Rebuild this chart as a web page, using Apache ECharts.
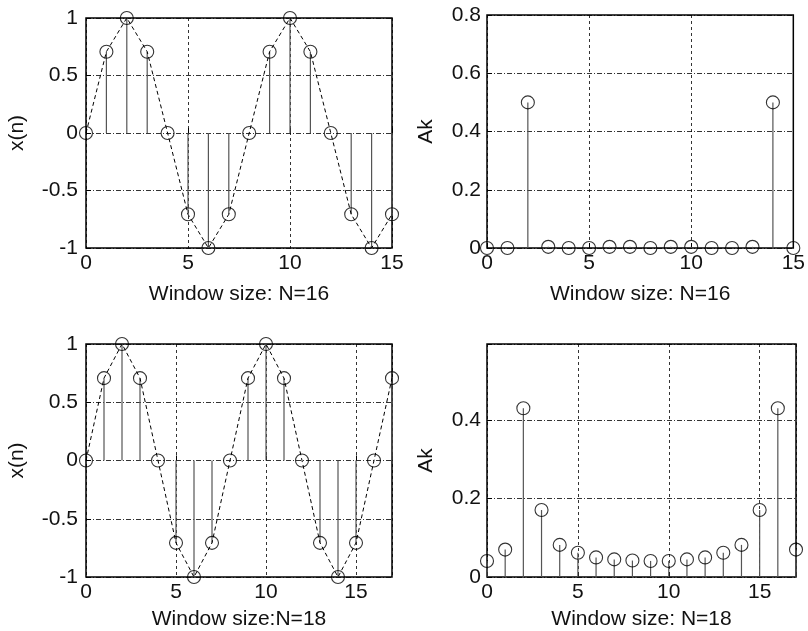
<!DOCTYPE html>
<html>
<head>
<meta charset="utf-8">
<script src="https://cdn.jsdelivr.net/npm/echarts@6/dist/echarts.min.js"></script>
<style>
html,body{margin:0;padding:0;background:#fff;}
#c{width:808px;height:631px;}
</style>
</head>
<body>
<div id="c"></div>
<script>
// ---- data ----
const n16 = [0,1,2,3,4,5,6,7,8,9,10,11,12,13,14,15];
const x16 = [0,0.707,1,0.707,0,-0.707,-1,-0.707,0,0.707,1,0.707,0,-0.707,-1,-0.707];
const k16 = [0,1,2,3,4,5,6,7,8,9,10,11,12,13,14,15];
const A16 = [0,0,0.5,0.004,0,0,0.004,0.004,0,0.004,0.004,0,0,0.004,0.5,0];

const n18 = [0,1,2,3,4,5,6,7,8,9,10,11,12,13,14,15,16,17];
const x18 = [0,0.707,1,0.707,0,-0.707,-1,-0.707,0,0.707,1,0.707,0,-0.707,-1,-0.707,0,0.707];
const k18 = [0,1,2,3,4,5,6,7,8,9,10,11,12,13,14,15,16,17];
const A18 = [0.041,0.070,0.431,0.171,0.082,0.062,0.050,0.045,0.042,0.041,0.041,0.045,0.050,0.062,0.082,0.171,0.431,0.070];

const xTitles = ['Window size: N=16','Window size: N=16','Window size:N=18','Window size: N=18'];
const yTitles = ['x(n)','Ak','x(n)','Ak'];

// ---- helpers ----
const FONT = 'Liberation Sans, Arial, sans-serif';
const pairs = (xs, ys) => xs.map((x, i) => [x, ys[i]]);

function stemRender(params, api) {
  const x = api.value(0), y = api.value(1);
  const p0 = api.coord([x, 0]);
  const p1 = api.coord([x, y]);
  return {type: 'line', shape: {x1: p0[0], y1: p0[1], x2: p1[0], y2: p1[1]},
          style: {stroke: '#555', lineWidth: 1.2}};
}

const grids = [
  {left: 86, top: 18, width: 306, height: 230},
  {left: 487, top: 15, width: 309, height: 233},
  {left: 86, top: 344, width: 306, height: 233},
  {left: 487, top: 344, width: 309, height: 233}
];
grids.forEach(g => { g.show = true; g.borderColor = '#000'; g.borderWidth = 1.5; g.backgroundColor = 'transparent'; });

const xRanges = [[0,15],[0,15],[0,17],[0,17]];
const yRanges = [[-1,1,0.5],[0,0.8,0.2],[-1,1,0.5],[0,0.595,0.2]];
const nameGapsX = [36, 36, 32, 32];
const nameGapsY = [58, 50, 58, 50];
const yMargins = [8, 6, 8, 6];

const xAxes = xRanges.map((r, i) => ({
  type: 'value', gridIndex: i, min: r[0], max: r[1], interval: 5,
  name: xTitles[i], nameLocation: 'middle', nameGap: nameGapsX[i],
  nameTextStyle: {fontFamily: FONT, fontSize: 21, color: '#111'},
  axisLine: {show: false},
  axisTick: {show: true, inside: true, length: 5, lineStyle: {color: '#000'}},
  axisLabel: {fontFamily: FONT, fontSize: 21, color: '#111', margin: 5,
    formatter: v => (Math.abs(v % 5) < 1e-9 ? String(v) : '')},
  splitLine: {show: true, lineStyle: {color: '#000', width: 0.8, type: [3, 3]}}
}));

const yAxes = yRanges.map((r, i) => ({
  type: 'value', gridIndex: i, min: r[0], max: r[1], interval: r[2],
  name: yTitles[i], nameLocation: 'middle', nameGap: nameGapsY[i], nameRotate: 90,
  nameTextStyle: {fontFamily: FONT, fontSize: 21, color: '#111'},
  axisLine: {show: false},
  axisTick: {show: true, inside: true, length: 5, lineStyle: {color: '#000'}},
  axisLabel: {fontFamily: FONT, fontSize: 21, color: '#111', margin: yMargins[i],
    formatter: v => {
      const q = v / r[2];
      if (Math.abs(q - Math.round(q)) > 1e-6) return '';
      return String(Math.round(v * 100) / 100);
    }},
  splitLine: {show: true, lineStyle: {color: '#000', width: 0.8, type: [5, 2, 1, 2]}}
}));

const datasets = [pairs(n16, x16), pairs(k16, A16), pairs(n18, x18), pairs(k18, A18)];
const series = [];
datasets.forEach((d, i) => {
  series.push({type: 'custom', xAxisIndex: i, yAxisIndex: i, renderItem: stemRender,
    data: d, z: 2, silent: true, clip: false});
  if (i === 0 || i === 2) {
    series.push({type: 'line', xAxisIndex: i, yAxisIndex: i, data: d, showSymbol: false,
      symbol: 'none', lineStyle: {color: '#000', width: 1, type: [4, 3]}, z: 3, silent: true});
  }
  series.push({type: 'scatter', xAxisIndex: i, yAxisIndex: i, data: d, symbol: 'circle',
    symbolSize: 13, itemStyle: {color: 'rgba(0,0,0,0)', borderColor: '#000', borderWidth: 1.1},
    z: 4, silent: true, clip: false});
});

const chart = echarts.init(document.getElementById('c'), null, {renderer: 'canvas'});
chart.setOption({
  backgroundColor: '#fff',
  animation: false,
  grid: grids,
  xAxis: xAxes,
  yAxis: yAxes,
  series: series
});
</script>
</body>
</html>
